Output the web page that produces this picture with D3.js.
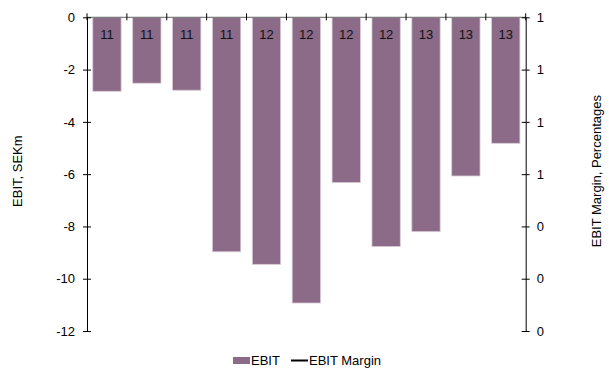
<!DOCTYPE html>
<html>
<head>
<meta charset="utf-8">
<script src="https://cdn.jsdelivr.net/npm/d3@7"></script>
<style>
  html, body { margin: 0; padding: 0; background: #fff; }
  svg { display: block; font-family: "Liberation Sans", Arial, sans-serif; }
</style>
</head>
<body>
<svg id="chart" width="609" height="370"></svg>
<script>
// Quarterly EBIT (SEKm); labels show the year of each quarter
const quarters = ["Q1 11", "Q2 11", "Q3 11", "Q4 11", "Q1 12", "Q2 12", "Q3 12", "Q4 12", "Q1 13", "Q2 13", "Q3 13"];
const yearLabels = ["11", "11", "11", "11", "12", "12", "12", "12", "13", "13", "13"];
const ebit = [-2.83, -2.52, -2.79, -8.97, -9.45, -10.93, -6.32, -8.77, -8.2, -6.07, -4.82];
const leftTicks = [0, -2, -4, -6, -8, -10, -12];
const rightTicks = [0, 0.2, 0.4, 0.6, 0.8, 1.0, 1.2];

const svg = d3.select("#chart");
const plotLeft = 87, plotRight = 525.7, plotTop = 17.3, plotBottom = 331;
const font = "Liberation Sans, Arial, sans-serif";
const fs = 13;

const x = d3.scaleBand().domain(quarters).range([plotLeft, plotRight]).paddingInner(0.29).paddingOuter(0.145);
const y = d3.scaleLinear().domain([0, -12]).range([plotTop, plotBottom]);
const y2 = d3.scaleLinear().domain([0, 1.2]).range([plotBottom, plotTop]);

const barColor = "#8b6b87";

// bars
svg.append("g").selectAll("rect").data(ebit).join("rect")
  .attr("x", (d, i) => x(quarters[i]))
  .attr("y", y(0))
  .attr("width", x.bandwidth())
  .attr("height", d => y(d) - y(0))
  .attr("fill", barColor)
  .attr("stroke", "#d9cad6")
  .attr("stroke-width", 0.8);

// year labels inside bar tops
svg.append("g").selectAll("text").data(yearLabels).join("text")
  .attr("x", (d, i) => x(quarters[i]) + x.bandwidth() / 2)
  .attr("y", 38.5)
  .attr("text-anchor", "middle")
  .attr("font-size", fs)
  .attr("fill", "#111")
  .text(d => d);

// category axis along zero line with boundary ticks
const step = x.step();
const bounds = d3.range(quarters.length + 1).map(i => plotLeft + i * step);
svg.append("line")
  .attr("x1", plotLeft).attr("x2", plotRight)
  .attr("y1", y(0)).attr("y2", y(0))
  .attr("stroke", "#7f7f7f").attr("stroke-width", 1.2);
svg.append("g").selectAll("line").data(bounds).join("line")
  .attr("x1", d => d).attr("x2", d => d)
  .attr("y1", y(0) - 4).attr("y2", y(0) + 3)
  .attr("stroke", "#000").attr("stroke-width", 1);

// plain hyphen for negatives
const intFmt = d => String(Math.round(d));

// left axis
const leftAxis = d3.axisLeft(y).tickValues(leftTicks).tickSize(0).tickPadding(12).tickFormat(intFmt);
const gl = svg.append("g").attr("transform", `translate(${plotLeft},0)`).call(leftAxis);
gl.attr("font-family", font).attr("font-size", fs);
gl.select(".domain").attr("stroke", "#000");
gl.selectAll(".tick text").attr("fill", "#000");
gl.selectAll(".tick").append("line").attr("x1", -4).attr("x2", 4).attr("stroke", "#000");

// right axis
const rightAxis = d3.axisRight(y2).tickValues(rightTicks).tickSize(0).tickPadding(11).tickFormat(intFmt);
const gr = svg.append("g").attr("transform", `translate(${plotRight},0)`).call(rightAxis);
gr.attr("font-family", font).attr("font-size", fs);
gr.select(".domain").attr("stroke", "#000");
gr.selectAll(".tick text").attr("fill", "#000");
gr.selectAll(".tick").append("line").attr("x1", -4).attr("x2", 4).attr("stroke", "#000");

// axis titles
svg.append("text")
  .attr("transform", `translate(22,${(plotTop + plotBottom) / 2 - 3}) rotate(-90)`)
  .attr("text-anchor", "middle")
  .attr("font-size", fs)
  .text("EBIT, SEKm");
svg.append("text")
  .attr("transform", `translate(601,${(plotTop + plotBottom) / 2 - 3}) rotate(-90)`)
  .attr("text-anchor", "middle")
  .attr("font-size", fs)
  .text("EBIT Margin, Percentages");

// legend
const lg = svg.append("g");
lg.append("rect").attr("x", 233).attr("y", 357).attr("width", 17).attr("height", 7).attr("fill", barColor);
lg.append("text").attr("x", 251).attr("y", 365).attr("font-size", fs).text("EBIT");
lg.append("line").attr("x1", 291).attr("x2", 308).attr("y1", 360.5).attr("y2", 360.5).attr("stroke", "#000").attr("stroke-width", 2);
lg.append("text").attr("x", 309).attr("y", 365).attr("font-size", fs).text("EBIT Margin");
</script>
</body>
</html>
